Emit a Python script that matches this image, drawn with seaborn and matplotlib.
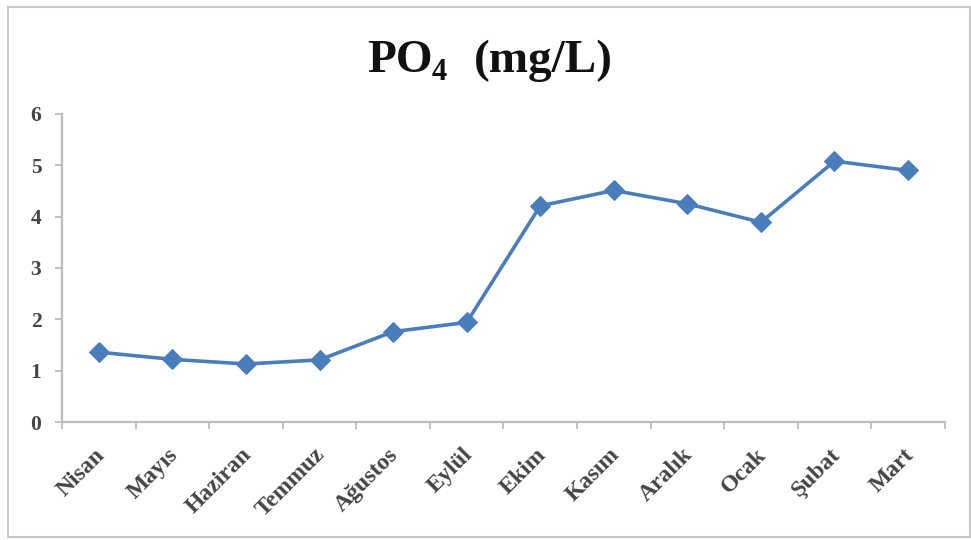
import matplotlib
matplotlib.use("Agg")
import matplotlib.pyplot as plt
from matplotlib.patches import Rectangle
from matplotlib.transforms import ScaledTranslation
import seaborn as sns
import pandas as pd

# Monthly phosphate concentration
months = ["Nisan", "Mayıs", "Haziran", "Temmuz", "Ağustos", "Eylül",
          "Ekim", "Kasım", "Aralık", "Ocak", "Şubat", "Mart"]
po4 = [1.36, 1.22, 1.13, 1.21, 1.76, 1.94, 4.21, 4.51, 4.25, 3.89, 5.08, 4.90]
y_ticks = [0, 1, 2, 3, 4, 5, 6]

sns.set_theme(style="white")
plt.rcParams["font.family"] = ["Liberation Serif", "DejaVu Serif"]

df = pd.DataFrame({"Ay": months, "PO4": po4})

fig = plt.figure(figsize=(9.71, 5.40), dpi=100)
ax = fig.add_axes([0.064, 0.2185, 0.909, 0.5705])

line_blue = "#4a7ebb"
sns.lineplot(data=df, x="Ay", y="PO4", ax=ax, color=line_blue, linewidth=2.6,
             marker="D", markersize=10, markeredgecolor=line_blue, sort=False)

ax.set_xlim(-0.5, len(months) - 0.5)
ax.set_ylim(0, 6)
ax.set_yticks(y_ticks)
ax.set_xlabel("")
ax.set_ylabel("")

axis_gray = "#bdbdbd"
label_gray = "#454545"
for side in ["top", "right"]:
    ax.spines[side].set_visible(False)
for side in ["left", "bottom"]:
    ax.spines[side].set_color(axis_gray)
    ax.spines[side].set_linewidth(1.6)

# category boundaries carry the tick marks, labels sit at category centres
ax.set_xticks(range(len(months)))
ax.set_xticklabels(months, rotation=45, ha="right", va="top", rotation_mode="anchor",
                   fontsize=17, fontweight="bold", color=label_gray)
ax.set_xticks([i - 0.5 for i in range(len(months) + 1)], minor=True)
ax.tick_params(axis="x", which="major", length=0, pad=16)
ax.tick_params(axis="x", which="minor", length=5, width=1.3, color=axis_gray,
               direction="out", bottom=True)
ax.tick_params(axis="y", which="major", length=5, width=1.3, color=axis_gray,
               direction="out", left=True, pad=10)
shift = ScaledTranslation(-5 / 100, 0, fig.dpi_scale_trans)
for lab in ax.get_xticklabels():
    lab.set_transform(lab.get_transform() + shift)
for lab in ax.get_yticklabels():
    lab.set_fontsize(15.5)
    lab.set_fontweight("bold")
    lab.set_color(label_gray)

# title with subscript, laid out piece by piece
title_kw = dict(fontweight="bold", color="#111111", va="baseline")
fig.text(0.378, 1 - 72 / 540, "PO", fontsize=34, ha="left", **title_kw)
fig.text(0.445, 1 - 80 / 540, "4", fontsize=22, ha="left", **title_kw)
fig.text(0.631, 1 - 72 / 540, "(mg/L)", fontsize=34, ha="right", **title_kw)

# outer chart frame
fig.patches.append(Rectangle((0.008, 0.006), 0.991, 0.981, transform=fig.transFigure,
                             fill=False, edgecolor="#c8c8c8", linewidth=1.5))

fig.savefig("out.png", dpi=100)
